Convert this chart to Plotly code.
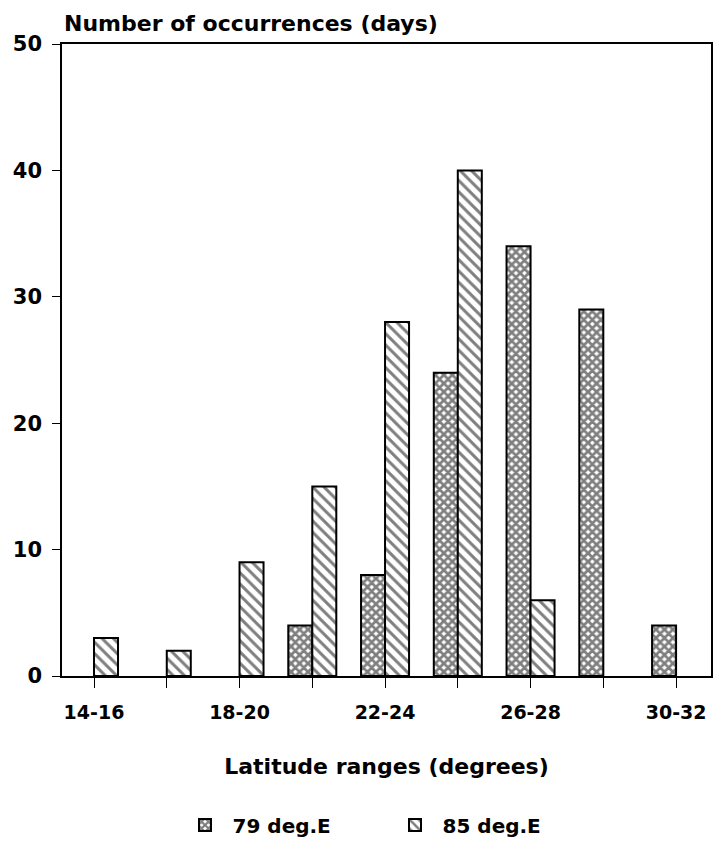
import plotly.graph_objects as go

categories = ["14-16", "16-18", "18-20", "20-22", "22-24", "24-26", "26-28", "28-30", "30-32"]
tick_labels = ["14-16", "", "18-20", "", "22-24", "", "26-28", "", "30-32"]
values_79E = [None, None, None, 4, 8, 24, 34, 29, 4]
values_85E = [3, 2, 9, 15, 28, 40, 6, None, None]
y_ticks = [0, 10, 20, 30, 40, 50]

FONT = "DejaVu Sans"

fig = go.Figure()
fig.add_trace(go.Bar(
    x=categories, y=values_79E, name="79 deg.E",
    marker=dict(color="white", line=dict(color="black", width=2),
                pattern=dict(shape="x", size=6, solidity=0.7, fgcolor="black", bgcolor="white")),
))
fig.add_trace(go.Bar(
    x=categories, y=values_85E, name="85 deg.E",
    marker=dict(color="white", line=dict(color="black", width=2),
                pattern=dict(shape="\\", size=8, solidity=0.38, fgcolor="black", bgcolor="white")),
))

fig.update_layout(
    width=718, height=850,
    margin=dict(l=62, r=5, t=44, b=171),
    paper_bgcolor="white", plot_bgcolor="white",
    barmode="group", bargap=0.34, bargroupgap=0,
    font=dict(family=FONT, size=18, color="black"),
    showlegend=True,
    legend=dict(orientation="h", x=0.178, xanchor="left", y=-0.205, yanchor="top",
                font=dict(family=FONT, size=20, color="black", weight="bold"),
                itemwidth=45, entrywidth=150, entrywidthmode="pixels",
                traceorder="normal"),
    xaxis=dict(
        type="category", range=[-0.44, 8.48],
        tickmode="array", tickvals=categories, ticktext=tick_labels,
        ticks="outside", ticklen=10, tickwidth=1.2, tickcolor="black",
        ticklabelstandoff=8,
        showline=True, linecolor="black", linewidth=1.5, mirror=True,
        showgrid=False, zeroline=False,
        tickfont=dict(family=FONT, size=19, color="black", weight="bold"),
        title=dict(text="Latitude ranges (degrees)", standoff=37,
                   font=dict(family=FONT, size=22, color="black", weight="bold")),
    ),
    yaxis=dict(
        range=[0, 50], tickvals=y_ticks,
        ticks="outside", ticklen=8, tickwidth=1.2, tickcolor="black",
        ticklabelstandoff=6,
        showline=True, linecolor="black", linewidth=1.5, mirror=True,
        showgrid=False, zeroline=False,
        tickfont=dict(family=FONT, size=21, color="black", weight="bold"),
    ),
    annotations=[dict(
        text="Number of occurrences (days)", xref="paper", yref="paper",
        x=0.0, y=1.0, xanchor="left", yanchor="bottom", yshift=6, showarrow=False,
        font=dict(family=FONT, size=22, color="black", weight="bold"),
    )],
)

fig.write_html("out.html")
